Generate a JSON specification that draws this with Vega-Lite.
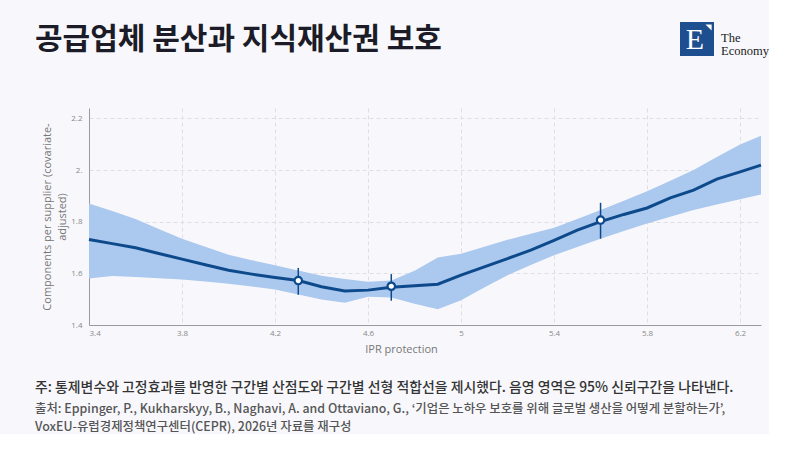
{
  "$schema": "https://vega.github.io/schema/vega-lite/v6.json",
  "background": "#f8f8fc",
  "padding": {"left": 35, "top": 22, "right": 0, "bottom": 0},
  "config": {
    "view": {"stroke": null},
    "axis": {
      "labelFont": "Open Sans",
      "labelFontSize": 8,
      "labelColor": "#888888",
      "titleFont": "Open Sans",
      "titleFontSize": 11,
      "titleFontWeight": "normal",
      "titleColor": "#777777",
      "ticks": false,
      "tickSize": 0,
      "domainColor": "#9a9aa0",
      "gridColor": "#dedee6",
      "gridDash": [4, 3]
    }
  },
  "datasets": {
    "fit": [
      {"x": 3.4, "fit": 1.731, "lo": 1.58, "hi": 1.87},
      {"x": 3.5, "fit": 1.715, "lo": 1.59, "hi": 1.841},
      {"x": 3.6, "fit": 1.699, "lo": 1.586, "hi": 1.81},
      {"x": 3.7, "fit": 1.677, "lo": 1.581, "hi": 1.772},
      {"x": 3.8, "fit": 1.655, "lo": 1.576, "hi": 1.734},
      {"x": 3.9, "fit": 1.633, "lo": 1.568, "hi": 1.703},
      {"x": 4.0, "fit": 1.612, "lo": 1.56, "hi": 1.672},
      {"x": 4.1, "fit": 1.597, "lo": 1.549, "hi": 1.651},
      {"x": 4.2, "fit": 1.584, "lo": 1.537, "hi": 1.631},
      {"x": 4.3, "fit": 1.572, "lo": 1.518, "hi": 1.611},
      {"x": 4.4, "fit": 1.548, "lo": 1.499, "hi": 1.591},
      {"x": 4.5, "fit": 1.532, "lo": 1.486, "hi": 1.578},
      {"x": 4.6, "fit": 1.535, "lo": 1.509, "hi": 1.567},
      {"x": 4.7, "fit": 1.546, "lo": 1.506, "hi": 1.572},
      {"x": 4.8, "fit": 1.552, "lo": 1.482, "hi": 1.61},
      {"x": 4.9, "fit": 1.558, "lo": 1.461, "hi": 1.661},
      {"x": 5.0, "fit": 1.593, "lo": 1.496, "hi": 1.676},
      {"x": 5.1, "fit": 1.625, "lo": 1.545, "hi": 1.703},
      {"x": 5.2, "fit": 1.657, "lo": 1.593, "hi": 1.73},
      {"x": 5.3, "fit": 1.69, "lo": 1.632, "hi": 1.753},
      {"x": 5.4, "fit": 1.728, "lo": 1.67, "hi": 1.776},
      {"x": 5.5, "fit": 1.767, "lo": 1.702, "hi": 1.81},
      {"x": 5.6, "fit": 1.8, "lo": 1.734, "hi": 1.845},
      {"x": 5.7, "fit": 1.828, "lo": 1.764, "hi": 1.881},
      {"x": 5.8, "fit": 1.853, "lo": 1.793, "hi": 1.918},
      {"x": 5.9, "fit": 1.892, "lo": 1.819, "hi": 1.958},
      {"x": 6.0, "fit": 1.922, "lo": 1.845, "hi": 2.0},
      {"x": 6.1, "fit": 1.965, "lo": 1.866, "hi": 2.05},
      {"x": 6.2, "fit": 1.993, "lo": 1.887, "hi": 2.099},
      {"x": 6.29, "fit": 2.019, "lo": 1.905, "hi": 2.133}
    ],
    "bins": [
      {"x": 4.3, "y": 1.572, "lo": 1.517, "hi": 1.621},
      {"x": 4.7, "y": 1.55, "lo": 1.494, "hi": 1.597},
      {"x": 5.6, "y": 1.806, "lo": 1.734, "hi": 1.873}
    ]
  },
  "vconcat": [
    {
      "hconcat": [
        {
          "width": 560,
          "height": 34,
          "data": {"values": [{"title": "공급업체 분산과 지식재산권 보호"}]},
          "mark": {
            "type": "text",
            "align": "left",
            "baseline": "middle",
            "dx": -334,
            "dy": 1,
            "font": "Noto Sans CJK KR",
            "fontSize": 30,
            "fontWeight": "bold",
            "color": "#1c1c28"
          },
          "encoding": {"text": {"field": "title"}}
        },
        {
          "width": 34,
          "height": 34,
          "data": {"values": [{"brand": "The Economy", "letter": "E"}]},
          "layer": [
            {
              "mark": {"type": "point", "shape": "square", "filled": true, "size": 1156, "color": "#1d4e8f", "opacity": 1}
            },
            {
              "mark": {"type": "point", "shape": "M0.5,-0.86L0.86,-0.86L0.86,-0.5Z", "filled": true, "size": 1156, "color": "#ffffff", "opacity": 1}
            },
            {
              "mark": {"type": "text", "align": "center", "baseline": "middle", "dx": -2, "dy": 1, "font": "Liberation Serif", "fontSize": 30, "color": "#ffffff"},
              "encoding": {"text": {"field": "letter"}}
            },
            {
              "mark": {"type": "text", "align": "left", "baseline": "middle", "dx": 24, "dy": -1, "font": "Liberation Serif", "fontSize": 12.5, "lineHeight": 13, "color": "#1a1a1a"},
              "encoding": {"text": {"value": ["The", "Economy"]}}
            }
          ]
        }
      ],
      "spacing": 31
    },
    {
      "width": 672,
      "height": 217,
      "title": {
        "text": "주: 통제변수와 고정효과를 반영한 구간별 산점도와 구간별 선형 적합선을 제시했다. 음영 영역은 95% 신뢰구간을 나타낸다.",
        "subtitle": ["출처: Eppinger, P., Kukharskyy, B., Naghavi, A. and Ottaviano, G., ‘기업은 노하우 보호를 위해 글로벌 생산을 어떻게 분할하는가’,", "VoxEU-유럽경제정책연구센터(CEPR), 2026년 자료를 재구성"],
        "orient": "bottom",
        "anchor": "start",
        "frame": "group",
        "dx": -54,
        "offset": 27,
        "font": "Noto Sans CJK KR",
        "fontSize": 13.9,
        "fontWeight": 500,
        "color": "#333333",
        "subtitleFont": "Noto Sans CJK KR",
        "subtitleFontSize": 12.4,
        "subtitleFontWeight": 500,
        "subtitleColor": "#555555",
        "subtitlePadding": 8,
        "subtitleLineHeight": 18
      },
      "layer": [
        {
          "data": {"name": "fit"},
          "mark": {"type": "area", "color": "#abc8ee", "opacity": 1},
          "encoding": {
            "x": {
              "field": "x",
              "type": "quantitative",
              "title": "IPR protection",
              "scale": {"domain": [3.4, 6.29], "nice": false, "zero": false},
              "axis": {
                "values": [3.4, 3.8, 4.2, 4.6, 5, 5.4, 5.8, 6.2],
                "format": "~g",
                "labelPadding": 4,
                "titlePadding": 6,
                "titleX": 312
              }
            },
            "y": {
              "field": "lo",
              "type": "quantitative",
              "title": ["Components per supplier (covariate-", "adjusted)"],
              "scale": {"domain": [1.4, 2.24], "nice": false, "zero": false},
              "axis": {
                "values": [1.4, 1.6, 1.8, 2, 2.2],
                "labelExpr": "datum.value == 2 ? '2.' : datum.label",
                "labelPadding": 7,
                "titlePadding": 3,
                "titleLineHeight": 15
              }
            },
            "y2": {"field": "hi"}
          }
        },
        {
          "data": {"name": "fit"},
          "mark": {"type": "line", "color": "#0d4a8c", "strokeWidth": 3},
          "encoding": {
            "x": {"field": "x", "type": "quantitative"},
            "y": {"field": "fit", "type": "quantitative"}
          }
        },
        {
          "data": {"name": "bins"},
          "mark": {"type": "rule", "color": "#0d4a8c", "strokeWidth": 1.5},
          "encoding": {
            "x": {"field": "x", "type": "quantitative"},
            "y": {"field": "lo", "type": "quantitative"},
            "y2": {"field": "hi"}
          }
        },
        {
          "data": {"name": "bins"},
          "mark": {"type": "point", "shape": "circle", "filled": true, "fill": "#ffffff", "stroke": "#0d4a8c", "strokeWidth": 2.2, "size": 55, "opacity": 1},
          "encoding": {
            "x": {"field": "x", "type": "quantitative"},
            "y": {"field": "y", "type": "quantitative"}
          }
        }
      ]
    }
  ],
  "spacing": 50
}
